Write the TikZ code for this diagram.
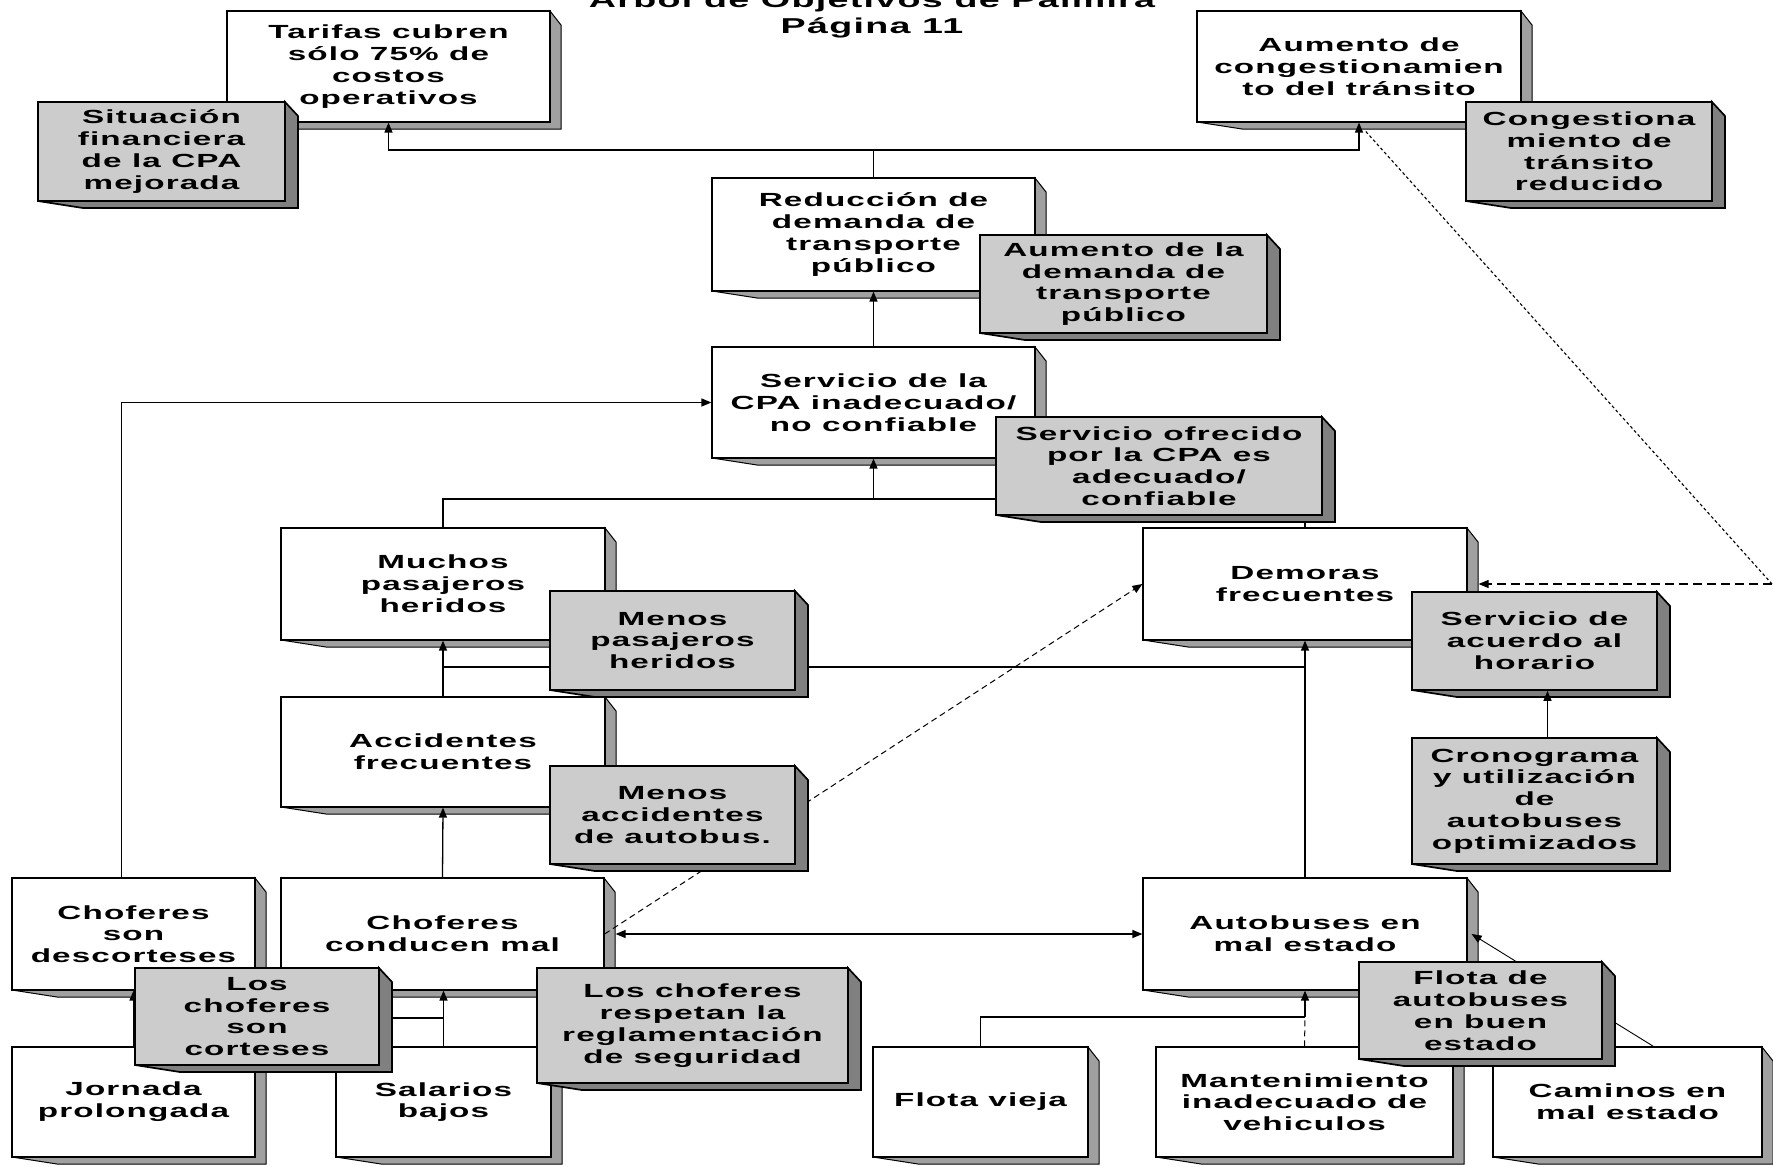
\documentclass[tikz,border=0pt]{standalone}
\usepackage{fontspec}
\setmainfont{Liberation Sans}[FakeStretch=1.75,LetterSpace=6]
\usetikzlibrary{arrows.meta,calc}
\definecolor{gfill}{RGB}{204,204,204}
\definecolor{gshade}{RGB}{128,128,128}
\definecolor{wshade}{RGB}{160,160,160}
\newcommand\boxfont{\fontsize{19}{21.8}\selectfont\bfseries}
\newcommand\titfont{\fontsize{21.5}{24}\selectfont\bfseries}
\tikzset{
  wbox/.style={draw=black, line width=1.2pt, fill=white, inner sep=0pt, align=center, font=\boxfont},
  gbox/.style={draw=black, line width=1.7pt, fill=gfill, inner sep=0pt, align=center, font=\boxfont},
  wshadow/.style={draw=black, line width=1pt, fill=wshade},
  gshadow/.style={draw=black, line width=1.7pt, fill=gshade},
  conn/.style={line width=1.3pt},
  tip/.style={-{Triangle[length=10pt,width=8pt]}},
  arr/.style={conn, tip},
  arrboth/.style={conn, {Triangle[length=10pt,width=8pt]}-{Triangle[length=10pt,width=8pt]}},
  dsh/.style={line width=1pt, dash pattern=on 6pt off 4pt},
  dshlong/.style={line width=1.1pt, dash pattern=on 9pt off 5pt},
  dotline/.style={line width=1.1pt, dash pattern=on 3pt off 2.5pt},
  thinarr/.style={line width=0.9pt, tip},
  titlestyle/.style={font=\titfont, anchor=base, inner sep=0pt}
}
% white box: name, x1, y1, x2, y2, text
\newcommand\wobj[6]{%
  \path[wshadow] (#4,#3) -- ++(11,14) -- (#4+11,#5+7) -- (#2+45,#5+7) -- (#2,#5) -- (#4,#5) -- cycle;
  \node[wbox, minimum width={#4-#2}, minimum height={#5-#3}] (#1) at ({(#2+#4)/2},{(#3+#5)/2}) {#6};
}
% grey box: name, x1, y1, x2, y2, text
\newcommand\gobj[6]{%
  \path[gshadow] (#4,#3) -- ++(13,14) -- (#4+13,#5+7) -- (#2+45,#5+7) -- (#2,#5) -- (#4,#5) -- cycle;
  \node[gbox, minimum width={#4-#2}, minimum height={#5-#3}] (#1) at ({(#2+#4)/2},{(#3+#5)/2}) {#6};
}
\begin{document}
\begin{tikzpicture}[x=1pt,y=-1pt]
\useasboundingbox (0,0) rectangle (1773,1167);
\clip (0,0) rectangle (1773,1167);
\fill[white] (0,0) rectangle (1773,1167);

% title
\node[titlestyle] (title1) at (872,7) {Árbol de Objetivos de Palmira};
\node[titlestyle] (title2) at (872,34) {Página 11};

% problem boxes (white)
\wobj{T1}{227}{11}{550}{122}{Tarifas cubren\\sólo 75\% de\\costos\\operativos}
\wobj{T2}{1197}{11}{1521}{122}{Aumento de\\congestionamien\\to del tránsito}
\wobj{T3}{712}{178}{1035}{291}{Reducción de\\demanda de\\transporte\\público}
\wobj{T4}{712}{347}{1035}{458}{Servicio de la\\CPA inadecuado/\\no confiable}
\wobj{T5}{281}{528}{605}{640}{Muchos\\pasajeros\\heridos}
\wobj{T6}{1143}{528}{1467}{640}{Demoras\\frecuentes}
\wobj{T7}{281}{697}{605}{807}{Accidentes\\frecuentes}
\wobj{T8}{12}{878}{255}{990}{Choferes\\son\\descorteses}
\wobj{T9}{281}{878}{604}{990}{Choferes\\conducen mal}
\wobj{T10}{1143}{878}{1467}{990}{Autobuses en\\mal estado}
\wobj{T11}{12}{1047}{255}{1157}{Jornada\\prolongada}
\wobj{T12}{336}{1047}{551}{1157}{Salarios\\bajos}
\wobj{T13}{873}{1047}{1088}{1157}{Flota vieja}
\wobj{T14}{1156}{1047}{1453}{1157}{Mantenimiento\\inadecuado de\\vehiculos}
\wobj{T15}{1493}{1047}{1762}{1157}{Caminos en\\mal estado}

% helper levels
\coordinate (h150) at (0,150);
\coordinate (h499) at (0,499);
\coordinate (h667) at (0,667);
\coordinate (h1017) at (0,1017);
\coordinate (h1018) at (0,1018);
\coordinate (cR) at (1772,584);

% connectors
\coordinate (j1) at (T3.north |- h150);
\draw[conn] (T3.north) -- (j1);
\draw[arr] (j1) -| (T1.south);
\draw[arr] (j1) -| (T2.south);
\draw[arr] (T4.north) -- (T3.south);
\coordinate (j2) at (T4.south |- h499);
\draw[conn] (T5.north) |- (j2);
\draw[conn] (T6.north) |- (j2);
\draw[arr] (j2) -- (T4.south);
\draw[arr] (T7.north) -- (T5.south);
\draw[conn] (T7.north |- h667) -- (T6.south |- h667);
\draw[arr] (T10.north) -- (T6.south);
\draw[arr] (T9.north) -- (T7.south);
\draw[arr] ([xshift=-12pt]T8.north) |- (T4.west);
\draw[arrboth] ([xshift=11pt]T9.east) -- (T10.west);
\draw[tip, dsh] (T9.east) -- (T6.west);
\draw[tip, dshlong] (cR) -- ([xshift=11pt]T6.east);
\draw[dotline] (cR) -- ([xshift=6pt,yshift=-8pt]T2.south);
\draw[arr] (T12.north) -- (T12.north |- T9.south);
\draw[arr] (T11.north) -- (T11.north |- T8.south);
\draw[conn] (T11.north |- h1018) -- (T12.north |- h1018);
\coordinate (j5) at (T10.south |- h1017);
\draw[conn] (T13.north) |- (j5);
\draw[arr] (j5) -- (T10.south);
\draw[dsh] (T14.north) -- (j5);
\draw[thinarr] ([xshift=26pt]T15.north) -- ([xshift=4pt]T10.east);

% objective boxes (grey)
\gobj{G1}{38}{102}{285}{201}{Situación\\financiera\\de la CPA\\mejorada}
\gobj{G2}{1466}{102}{1712}{201}{Congestiona\\miento de\\tránsito\\reducido}
\gobj{G3}{980}{235}{1267}{333}{Aumento de la\\demanda de\\transporte\\público}
\gobj{G4}{996}{417}{1322}{515}{Servicio ofrecido\\por la CPA es\\adecuado/\\confiable}
\gobj{G5}{550}{591}{795}{690}{Menos\\pasajeros\\heridos}
\gobj{G6}{550}{766}{795}{864}{Menos\\accidentes\\de autobus.}
\gobj{G7}{1412}{592}{1657}{690}{Servicio de\\acuerdo al\\horario}
\gobj{G8}{1412}{738}{1657}{864}{Cronograma\\y utilización\\de\\autobuses\\optimizados}
\gobj{G9}{135}{968}{379}{1065}{Los\\choferes\\son\\corteses}
\gobj{G10}{537}{968}{848}{1083}{Los choferes\\respetan la\\reglamentación\\de seguridad}
\gobj{G11}{1359}{962}{1602}{1059}{Flota de\\autobuses\\en buen\\estado}

\draw[arr] ([xshift=13pt]G8.north) -- ([xshift=13pt]G7.south);
\end{tikzpicture}
\end{document}
